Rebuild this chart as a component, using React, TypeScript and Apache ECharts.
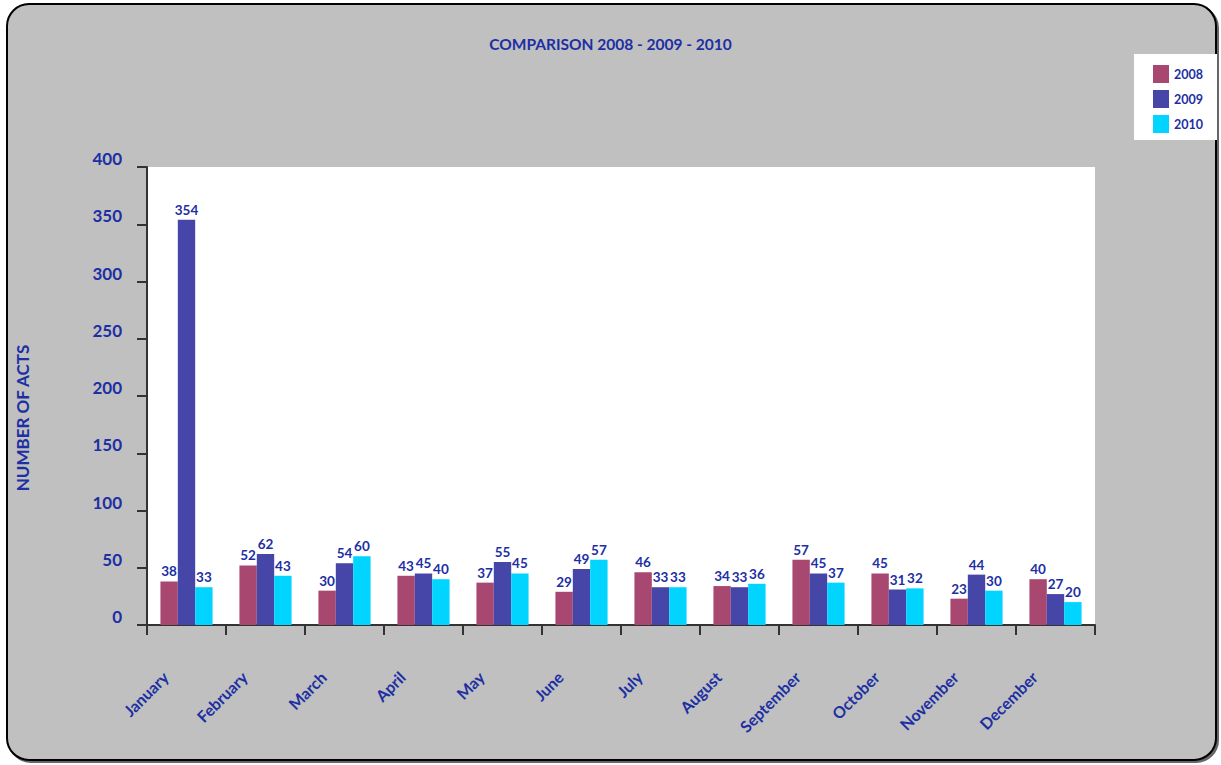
import React, { useEffect, useRef } from "react";
import * as echarts from "echarts";

const months = ["January","February","March","April","May","June","July","August","September","October","November","December"];
const s2008 = [38, 52, 30, 43, 37, 29, 46, 34, 57, 45, 23, 40];
const s2009 = [354, 62, 54, 45, 55, 49, 33, 33, 45, 31, 44, 27];
const s2010 = [33, 43, 60, 40, 45, 57, 33, 36, 37, 32, 30, 20];
const seriesNames = ["2008", "2009", "2010"];
const colors = ["#A84870", "#4646A8", "#00D4FF"];

const TXT = "#1c2fa3";
const FONT = "Lato, 'Open Sans', sans-serif";

export default function App() {
  const ref = useRef<HTMLDivElement>(null);
  useEffect(() => {
    const chart = echarts.init(ref.current!, undefined, { renderer: "svg" });
    const data = [s2008, s2009, s2010];
    chart.setOption({
      animation: false,
      backgroundColor: "#ffffff",
      textStyle: { fontFamily: FONT },
      graphic: [
        {
          type: "rect",
          z: -10,
          shape: { x: 7, y: 4, width: 1209, height: 756, r: 22 },
          style: { fill: "#c0c0c0", stroke: "#000", lineWidth: 2, shadowColor: "rgba(0,0,0,0.6)", shadowOffsetX: 2, shadowOffsetY: 2, shadowBlur: 1 },
        },
        {
          type: "text",
          x: 22,
          y: 418,
          rotation: Math.PI / 2,
          style: { text: "NUMBER OF ACTS", fill: TXT, font: `bold 17px ${FONT}`, align: "center", verticalAlign: "middle" },
        },
      ],
      title: {
        text: "COMPARISON 2008 - 2009 - 2010",
        left: "center",
        top: 31,
        textStyle: { color: TXT, fontSize: 15.5, fontWeight: "bold", fontFamily: FONT },
      },
      legend: {
        orient: "vertical",
        left: 1134,
        top: 54,
        width: 82,
        backgroundColor: "#ffffff",
        padding: [11, 14, 7, 19],
        itemWidth: 16,
        itemHeight: 18,
        itemGap: 7,
        icon: "rect",
        data: seriesNames,
        textStyle: { color: TXT, fontSize: 12.5, fontWeight: "bold", fontFamily: FONT, padding: [-8, 0, 0, 0] },
      },
      grid: {
        left: 147,
        top: 167,
        width: 948,
        height: 458,
        show: true,
        backgroundColor: "#ffffff",
        borderWidth: 0,
      },
      xAxis: {
        type: "category",
        data: months,
        axisLine: { lineStyle: { color: "#333", width: 2 } },
        axisTick: { show: true, length: 10, lineStyle: { color: "#333", width: 2 } },
        axisLabel: {
          rotate: 45,
          interval: 0,
          margin: 28,
          padding: [0, 30, 0, 0],
          color: TXT,
          fontSize: 16,
          fontWeight: "bold",
          fontFamily: FONT,
        },
      },
      yAxis: {
        type: "value",
        min: 0,
        max: 400,
        interval: 50,
        splitLine: { show: false },
        axisLine: { show: true, lineStyle: { color: "#333", width: 2 } },
        axisTick: { show: true, length: 10, lineStyle: { color: "#333", width: 2 } },
        axisLabel: {
          color: TXT,
          fontSize: 17,
          fontWeight: "bold",
          fontFamily: FONT,
          margin: 25,
          verticalAlign: "bottom",
        },
      },
      series: seriesNames.map((n, i) => ({
        name: n,
        type: "bar",
        data: data[i],
        barGap: "0%",
        barCategoryGap: "34%",
        itemStyle: { color: colors[i] },
        label: {
          show: true,
          position: "top",
          distance: 3,
          color: TXT,
          fontSize: 13.5,
          fontWeight: "bold",
          fontFamily: FONT,
        },
      })),
    });
    return () => chart.dispose();
  }, []);
  return <div ref={ref} style={{ position: "absolute", left: 0, top: 0, width: 1221, height: 765 }} />;
}
